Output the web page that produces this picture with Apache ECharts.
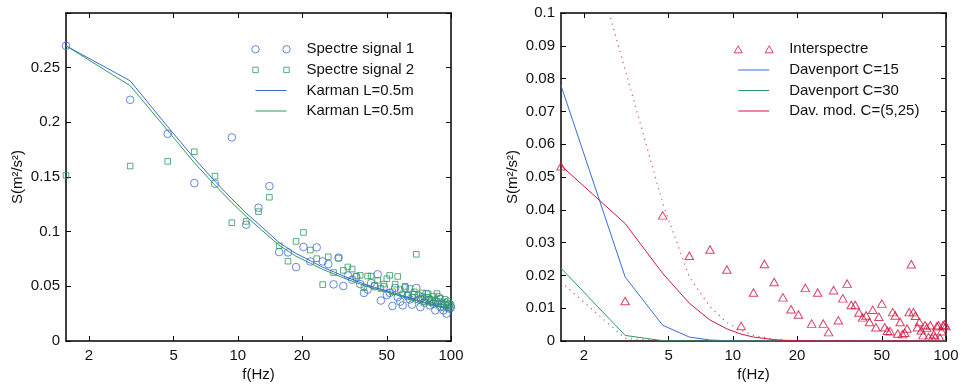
<!DOCTYPE html>
<html>
<head>
<meta charset="utf-8">
<script src="https://cdn.jsdelivr.net/npm/echarts@6/dist/echarts.min.js"></script>
<style>
  html, body { margin: 0; padding: 0; background: #fff; }
  #main { width: 961px; height: 388px; }
</style>
</head>
<body>
<div id="main"></div>
<script>
// frequency bins (Hz) of the measured spectra
var freqs = [1.5625, 3.125, 4.6875, 6.25, 7.8125, 9.375, 10.9375, 12.5, 14.0625, 15.625,
  17.1875, 18.75, 20.3125, 21.875, 23.4375, 25, 26.5625, 28.125, 29.6875, 31.25,
  32.8125, 34.375, 35.9375, 37.5, 39.0625, 40.625, 42.1875, 43.75, 45.3125, 46.875,
  48.4375, 50, 51.5625, 53.125, 54.6875, 56.25, 57.8125, 59.375, 60.9375, 62.5,
  64.0625, 65.625, 67.1875, 68.75, 70.3125, 71.875, 73.4375, 75, 76.5625, 78.125,
  79.6875, 81.25, 82.8125, 84.375, 85.9375, 87.5, 89.0625, 90.625, 92.1875, 93.75,
  95.3125, 96.875, 98.4375, 100];

// left panel: measured spectra
var spectre1 = [0.270, 0.2206, 0.1895, 0.1444, 0.1439, 0.1862, 0.1064, 0.1219, 0.1417, 0.0814,
  0.0810, 0.0676, 0.0860, 0.0727, 0.0856, 0.0728, 0.0703, 0.0518, 0.0762, 0.0503,
  0.0600, 0.0560, 0.0585, 0.0520, 0.0440, 0.0470, 0.0530, 0.0500, 0.0610, 0.0370,
  0.0494, 0.0420, 0.0440, 0.0320, 0.0485, 0.0400, 0.0360, 0.0326, 0.0485, 0.0410,
  0.0380, 0.0333, 0.0420, 0.0485, 0.0380, 0.0310, 0.0400, 0.0350, 0.0430, 0.0390,
  0.0326, 0.0370, 0.0340, 0.0280, 0.0360, 0.0400, 0.0310, 0.0340, 0.0280, 0.0330,
  0.0250, 0.0360, 0.0296, 0.0310];
var spectre2 = [0.1515, 0.1600, 0.1643, 0.1731, 0.1508, 0.1082, 0.1094, 0.1183, 0.1315, 0.0870,
  0.0730, 0.0911, 0.0993, 0.0832, 0.0753, 0.0516, 0.0770, 0.0626, 0.0759, 0.0646,
  0.0677, 0.0658, 0.0594, 0.0600, 0.0488, 0.0594, 0.0594, 0.0509, 0.0555, 0.0480,
  0.0520, 0.0570, 0.0600, 0.0450, 0.0520, 0.0590, 0.0470, 0.0430, 0.0500, 0.0420,
  0.0480, 0.0400, 0.0450, 0.0793, 0.0420, 0.0380, 0.0440, 0.0360, 0.0400, 0.0433,
  0.0380, 0.0350, 0.0410, 0.0370, 0.0433, 0.0340, 0.0390, 0.0360, 0.0310, 0.0380,
  0.0350, 0.0300, 0.0340, 0.0330];

// left panel: Karman model, sampled at a subset of the bins
var karmanFreqs = [1.5625, 3.125, 4.6875, 6.25, 7.8125, 9.375, 10.9375, 12.5, 15.625, 18.75,
  21.875, 25, 31.25, 37.5, 43.75, 50, 62.5, 75, 87.5, 100];
var karman1 = [0.270, 0.238, 0.196, 0.167, 0.146, 0.130, 0.117, 0.107, 0.090, 0.080,
  0.0735, 0.0675, 0.0595, 0.0535, 0.049, 0.046, 0.040, 0.0355, 0.0322, 0.0296];
var karman2 = [0.270, 0.2335, 0.1925, 0.163, 0.1425, 0.1265, 0.114, 0.104, 0.0875, 0.0775,
  0.0712, 0.0655, 0.0578, 0.052, 0.0477, 0.0448, 0.039, 0.0347, 0.0315, 0.029];

// right panel: measured cross spectrum
var interspectre = [0.0533, 0.0122, 0.0383, 0.0260, 0.0279, 0.0218, 0.0046, 0.0148, 0.0235, 0.0180,
  0.0133, 0.0097, 0.0081, 0.0162, 0.0053, 0.0148, 0.0053, 0.0027, 0.0155, 0.0063,
  0.0130, 0.0175, 0.0110, 0.0110, 0.0087, 0.0072, 0.0078, 0.0058, 0.0095, 0.0042,
  0.0074, 0.0114, 0.0042, 0.0031, 0.0030, 0.0088, 0.0078, 0.0023, 0.0058, 0.0021,
  0.0025, 0.0038, 0.0088, 0.0234, 0.0088, 0.0077, 0.0042, 0.0058, 0.0033, 0.0018,
  0.0048, 0.0040, 0.0012, 0.0048, 0.0010, 0.0020, 0.0012, 0.0045, 0.0048, 0.0010,
  0.0030, 0.0048, 0.0050, 0.0046];

// right panel: Davenport models
var davFreqs = [1.5625, 3.125, 4.6875, 6.25, 7.8125, 9.375, 10.9375, 12.5, 15.625, 18.75,
  25, 31.25, 50, 100];
var dav15 = [0.0779, 0.0195, 0.0048, 0.0012, 0.0003, 0.0001, 0, 0, 0, 0, 0, 0, 0, 0];
var dav30 = [0.0222, 0.0017, 0.0001, 0, 0, 0, 0, 0, 0, 0, 0, 0, 0, 0];
var davMod = [0.0535, 0.0358, 0.0206, 0.0115, 0.0064, 0.0037, 0.0021, 0.0012, 0.0004, 0.0001, 0, 0, 0, 0];
var davModHigh = [0.152, 0.0827, 0.0420, 0.0195, 0.0104, 0.0056, 0.0033, 0.0017, 0.0005, 0.0001, 0, 0, 0, 0];
var davModLow = [0.0180, 0.0008, 0, 0, 0, 0, 0, 0, 0, 0, 0, 0, 0, 0];

var freqTicks = [2, 5, 10, 20, 50, 100];

var BLUE = '#3b6cd6';
var GREEN = '#2f9a5c';
var RED = '#d2143f';
var FONT = 'Liberation Sans, Arial, Helvetica, sans-serif';
var TXT = '#111';

function pairs(xs, ys) {
  return xs.map(function (x, i) { return [x, ys[i]]; });
}

function xAxisFor(grid, top) {
  return {
    type: 'log', gridIndex: grid, position: top ? 'top' : 'bottom',
    min: 1.5625, max: 100, logBase: 10,
    name: top ? '' : 'f(Hz)', nameLocation: 'middle', nameGap: 26, nameMoveOverlap: false,
    nameTextStyle: { fontFamily: FONT, fontSize: 15, color: TXT },
    axisLine: { show: true, onZero: false, lineStyle: { color: '#000', width: 1.5 } },
    axisTick: { show: true, inside: true, length: 5, customValues: freqTicks, lineStyle: { color: '#000', width: 1 } },
    minorTick: { show: false },
    axisLabel: { show: !top, customValues: freqTicks, margin: 7, fontFamily: FONT, fontSize: 15, color: TXT,
      showMinLabel: true, showMaxLabel: true },
    splitLine: { show: false }
  };
}

function yAxisFor(grid, right, max, step) {
  return {
    type: 'value', gridIndex: grid, position: right ? 'right' : 'left',
    min: 0, max: max, interval: step,
    name: right ? '' : 'S(m²/s²)', nameLocation: 'middle', nameGap: 41, nameMoveOverlap: false,
    nameTextStyle: { fontFamily: FONT, fontSize: 15, color: TXT },
    axisLine: { show: true, onZero: false, lineStyle: { color: '#000', width: 1.5 } },
    axisTick: { show: true, inside: true, length: 5, lineStyle: { color: '#000', width: 1 } },
    axisLabel: { show: !right, margin: 6, fontFamily: FONT, fontSize: 15, color: TXT,
      // the top of the left panel (0.3) carries no label
      formatter: function (v) { return v > max - 1e-9 && max === 0.3 ? '' : String(+v.toFixed(4)); } },
    splitLine: { show: false }
  };
}

// legend icons: two markers like the original plotting tool, in a 50x10 box
var PAD = ' M0,0 M50,10';
var ICON_CIRCLES = 'path://M0.3,5 A3.7,3.7 0 1 1 7.7,5 A3.7,3.7 0 1 1 0.3,5 Z M31.3,5 A3.7,3.7 0 1 1 38.7,5 A3.7,3.7 0 1 1 31.3,5 Z' + PAD;
var ICON_SQUARES = 'path://M1.3,2.3 L6.7,2.3 L6.7,7.7 L1.3,7.7 Z M32.3,2.3 L37.7,2.3 L37.7,7.7 L32.3,7.7 Z' + PAD;
var ICON_TRIS = 'path://M0,8.5 L8,8.5 L4,1.5 Z M31,8.5 L39,8.5 L35,1.5 Z' + PAD;
var ICON_LINE = 'path://M4,4.5 L35,4.5 L35,5.5 L4,5.5 Z' + PAD;

function hollow(c) { return { color: 'rgba(0,0,0,0)', borderColor: c, borderWidth: 1 }; }
function solid(c) { return { color: c, borderWidth: 0 }; }

function legendFor(left, items) {
  return {
    orient: 'vertical', left: left, top: 41.3, padding: 0,
    itemWidth: 50, itemHeight: 10, itemGap: 4.6,
    selectedMode: false,
    textStyle: { fontFamily: FONT, fontSize: 15, color: TXT, lineHeight: 16 },
    formatter: function (n) { return n.trim(); },
    data: items
  };
}

var chart = echarts.init(document.getElementById('main'), null, { renderer: 'canvas' });
chart.setOption({
  animation: false,
  backgroundColor: '#fff',
  grid: [
    { left: 66, top: 13, width: 385, height: 328, outerBoundsMode: 'none' },
    { left: 561, top: 13, width: 385, height: 328, outerBoundsMode: 'none' }
  ],
  xAxis: [xAxisFor(0, false), xAxisFor(0, true), xAxisFor(1, false), xAxisFor(1, true)],
  yAxis: [yAxisFor(0, false, 0.3, 0.05), yAxisFor(0, true, 0.3, 0.05),
          yAxisFor(1, false, 0.1, 0.01), yAxisFor(1, true, 0.1, 0.01)],
  legend: [
    legendFor(251, [
      { name: 'Spectre signal 1', icon: ICON_CIRCLES, itemStyle: hollow(BLUE) },
      { name: 'Spectre signal 2', icon: ICON_SQUARES, itemStyle: hollow(GREEN) },
      { name: 'Karman L=0.5m', icon: ICON_LINE, itemStyle: solid(BLUE) },
      { name: 'Karman L=0.5m ', icon: ICON_LINE, itemStyle: solid(GREEN) }
    ]),
    legendFor(733.7, [
      { name: 'Interspectre', icon: ICON_TRIS, itemStyle: hollow(RED) },
      { name: 'Davenport C=15', icon: ICON_LINE, itemStyle: solid(BLUE) },
      { name: 'Davenport C=30', icon: ICON_LINE, itemStyle: solid(GREEN) },
      { name: 'Dav. mod. C=(5,25)', icon: ICON_LINE, itemStyle: solid(RED) }
    ])
  ],
  series: [
    { name: 'Spectre signal 1', type: 'scatter', xAxisIndex: 0, yAxisIndex: 0,
      symbol: 'circle', symbolSize: 7.6, itemStyle: hollow(BLUE), emphasis: { disabled: true },
      data: pairs(freqs, spectre1) },
    { name: 'Spectre signal 2', type: 'scatter', xAxisIndex: 0, yAxisIndex: 0,
      symbol: 'rect', symbolSize: 5.6, itemStyle: hollow(GREEN), emphasis: { disabled: true },
      data: pairs(freqs, spectre2) },
    { name: 'Karman L=0.5m', type: 'line', xAxisIndex: 0, yAxisIndex: 0, color: BLUE,
      symbol: 'none', lineStyle: { color: BLUE, width: 1 }, emphasis: { disabled: true },
      data: pairs(karmanFreqs, karman1) },
    { name: 'Karman L=0.5m ', type: 'line', xAxisIndex: 0, yAxisIndex: 0, color: GREEN,
      symbol: 'none', lineStyle: { color: GREEN, width: 1 }, emphasis: { disabled: true },
      data: pairs(karmanFreqs, karman2) },

    { name: 'Interspectre', type: 'scatter', xAxisIndex: 2, yAxisIndex: 2,
      symbol: 'triangle', symbolSize: [8.5, 7.5], itemStyle: hollow(RED), emphasis: { disabled: true },
      data: pairs(freqs, interspectre) },
    { name: 'Davenport C=15', type: 'line', xAxisIndex: 2, yAxisIndex: 2, color: BLUE,
      symbol: 'none', lineStyle: { color: BLUE, width: 1 }, emphasis: { disabled: true },
      data: pairs(davFreqs, dav15) },
    { name: 'Davenport C=30', type: 'line', xAxisIndex: 2, yAxisIndex: 2, color: GREEN,
      symbol: 'none', lineStyle: { color: GREEN, width: 1 }, emphasis: { disabled: true },
      data: pairs(davFreqs, dav30) },
    { name: 'Dav. mod. C=(5,25)', type: 'line', xAxisIndex: 2, yAxisIndex: 2, color: RED,
      symbol: 'none', lineStyle: { color: RED, width: 1 }, emphasis: { disabled: true },
      data: pairs(davFreqs, davMod) },
    { name: 'Dav. mod. C=5', type: 'line', xAxisIndex: 2, yAxisIndex: 2, color: RED,
      symbol: 'none', lineStyle: { color: RED, width: 1.2, type: [1.2, 4.5], opacity: 0.75 }, emphasis: { disabled: true },
      data: pairs(davFreqs, davModHigh) },
    { name: 'Dav. mod. C=25', type: 'line', xAxisIndex: 2, yAxisIndex: 2, color: RED,
      symbol: 'none', lineStyle: { color: RED, width: 1.2, type: [1.2, 4.5], opacity: 0.75 }, emphasis: { disabled: true },
      data: pairs(davFreqs, davModLow) }
  ]
});
</script>
</body>
</html>
